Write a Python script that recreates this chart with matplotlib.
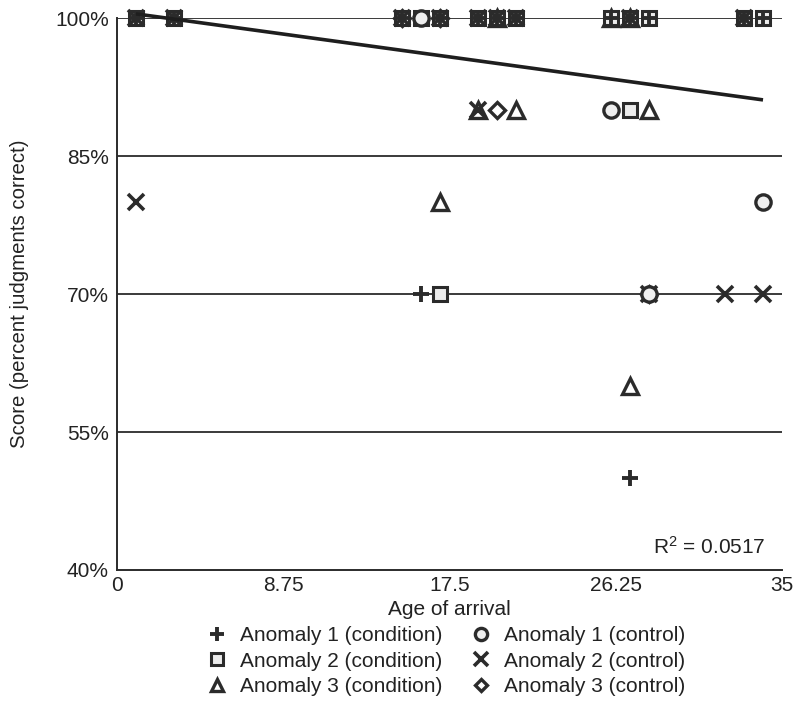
import matplotlib
matplotlib.use('Agg')
from matplotlib import pyplot as plt
from matplotlib.lines import Line2D

# ---- data ----
# Anomaly 1 (condition)  -> plus
a1_cond_x = [1, 3, 15, 17, 19, 20, 21, 26, 27, 28, 33, 34, 16, 27]
a1_cond_y = [100, 100, 100, 100, 100, 100, 100, 100, 100, 100, 100, 100, 70, 50]
# Anomaly 2 (condition)  -> square
a2_cond_x = [1, 3, 15, 16, 17, 19, 20, 21, 26, 27, 28, 33, 34, 27, 17]
a2_cond_y = [100, 100, 100, 100, 100, 100, 100, 100, 100, 100, 100, 100, 100, 90, 70]
# Anomaly 3 (condition)  -> triangle
a3_cond_x = [20, 26, 27, 19, 21, 28, 17, 27]
a3_cond_y = [100, 100, 100, 90, 90, 90, 80, 60]
# Anomaly 1 (control)    -> circle
a1_ctrl_x = [16, 26, 34, 28]
a1_ctrl_y = [100, 90, 80, 70]
# Anomaly 2 (control)    -> cross
a2_ctrl_x = [1, 3, 15, 17, 19, 20, 21, 27, 33, 19, 1, 28, 32, 34]
a2_ctrl_y = [100, 100, 100, 100, 100, 100, 100, 100, 100, 90, 80, 70, 70, 70]
# Anomaly 3 (control)    -> diamond
a3_ctrl_x = [15, 17, 20, 28]
a3_ctrl_y = [100, 100, 90, 70]

# linear trend line (end points)
trend_x = [1, 34]
trend_y = [100.45, 91.1]
r_squared = 0.0517

x_ticks = [0, 8.75, 17.5, 26.25, 35]
x_tick_labels = ['0', '8.75', '17.5', '26.25', '35']
y_ticks = [40, 55, 70, 85, 100]
y_tick_labels = ['40%', '55%', '70%', '85%', '100%']

dark = '#2b2b2b'
txt = '#222222'
plt.rcParams['font.family'] = ['Liberation Sans', 'DejaVu Sans']
plt.rcParams['mathtext.default'] = 'regular'

fig = plt.figure(figsize=(7.97, 7.15), dpi=100)
ax = fig.add_axes([0.1468, 0.2028, 0.8344, 0.772])

# horizontal grid lines
for yv in y_ticks[1:]:
    ax.axhline(yv, color=dark, lw=1.3, zorder=1)

# series styles
styles = {
    'a1_cond': dict(marker='+', ms=12, mew=2.8, mec=dark),
    'a2_cond': dict(marker='s', ms=10, mew=2.2, mec=dark, mfc='#ececec'),
    'a3_cond': dict(marker='^', ms=11, mew=2.4, mec=dark, mfc='white'),
    'a1_ctrl': dict(marker='o', ms=11, mew=2.4, mec=dark, mfc='#efefef'),
    'a2_ctrl': dict(marker='x', ms=12, mew=2.6, mec=dark),
    'a3_ctrl': dict(marker='D', ms=8, mew=2.4, mec=dark, mfc='white'),
}

ax.plot(a3_ctrl_x, a3_ctrl_y, ls='none', zorder=3, clip_on=False, **styles['a3_ctrl'])
ax.plot(a3_cond_x, a3_cond_y, ls='none', zorder=3, clip_on=False, **styles['a3_cond'])
ax.plot(a2_cond_x, a2_cond_y, ls='none', zorder=3, clip_on=False, **styles['a2_cond'])
ax.plot(a2_ctrl_x, a2_ctrl_y, ls='none', zorder=4, clip_on=False, **styles['a2_ctrl'])
ax.plot(a1_ctrl_x, a1_ctrl_y, ls='none', zorder=4, clip_on=False, **styles['a1_ctrl'])
ax.plot(a1_cond_x, a1_cond_y, ls='none', zorder=4, clip_on=False, **styles['a1_cond'])

# trend line
ax.plot(trend_x, trend_y, color='#1e1e1e', lw=2.6, zorder=5, clip_on=False,
        solid_capstyle='butt')

ax.set_xlim(0, 35)
ax.set_ylim(40, 100)
ax.set_xticks(x_ticks)
ax.set_xticklabels(x_tick_labels)
ax.set_yticks(y_ticks)
ax.set_yticklabels(y_tick_labels)
ax.tick_params(length=0, labelsize=15, colors=txt, pad=4)
ax.tick_params(axis='y', pad=6)

for side in ['top', 'right']:
    ax.spines[side].set_visible(False)
for side in ['left', 'bottom']:
    ax.spines[side].set_color(dark)
    ax.spines[side].set_linewidth(1.4)

ax.set_xlabel('Age of arrival', fontsize=15, color=txt, labelpad=4)
ax.set_ylabel('Score (percent judgments correct)', fontsize=14.7, color=txt, labelpad=19)

ax.text(0.975, 0.022, 'R$^2$ = %.4f' % r_squared, transform=ax.transAxes,
        ha='right', va='bottom', fontsize=15, color=txt)

# legend below the chart
def handle(key, **kw):
    st = dict(styles[key])
    st['ms'] = st['ms'] * 0.8
    return Line2D([], [], ls='none', **st)

handles = [handle('a1_cond'), handle('a2_cond'), handle('a3_cond'),
           handle('a1_ctrl'), handle('a2_ctrl'), handle('a3_ctrl')]
labels = ['Anomaly 1 (condition)', 'Anomaly 2 (condition)', 'Anomaly 3 (condition)',
          'Anomaly 1 (control)', 'Anomaly 2 (control)', 'Anomaly 3 (control)']
fig.legend(handles, labels, ncol=2, loc='upper left', bbox_to_anchor=(0.2595, 0.124),
           frameon=False, fontsize=15, labelcolor=txt, handlelength=1.0,
           handletextpad=0.6, columnspacing=1.33, labelspacing=0.3,
           borderpad=0, borderaxespad=0)

fig.savefig('out.png', dpi=100)
